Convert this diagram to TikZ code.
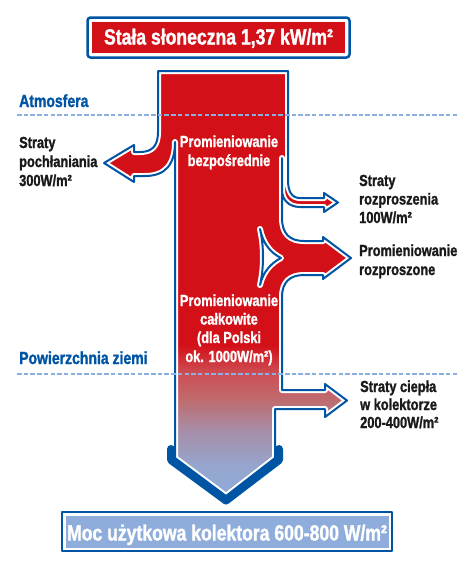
\documentclass[tikz,border=0pt]{standalone}
\usepackage{fontspec}
\setmainfont{Liberation Sans}[FakeStretch=0.8, BoldFeatures={FakeBold=1.4}]
\definecolor{mred}{RGB}{211,16,24}
\definecolor{outblue}{RGB}{0,84,164}
\definecolor{lblue}{RGB}{142,173,219}
\definecolor{dashblue}{RGB}{140,175,225}
\definecolor{gA}{RGB}{205,78,84}
\definecolor{gB}{RGB}{190,108,112}
\definecolor{gC}{RGB}{166,142,168}
\definecolor{gD}{RGB}{150,165,205}
\definecolor{txt}{RGB}{26,26,26}
\tikzset{
  lbl/.style={font=\fontsize{16}{19}\selectfont\bfseries, inner sep=0pt, anchor=base west, text=txt},
  wlbl/.style={font=\fontsize{16}{19}\selectfont\bfseries, inner sep=0pt, anchor=base, text=white},
  zone/.style={font=\fontsize{17.5}{20}\selectfont\bfseries, inner sep=0pt, anchor=base west, text=outblue},
  ttl/.style={font=\fontsize{22}{24}\selectfont\bfseries, inner sep=0pt, anchor=base, text=white},
  sepline/.style={draw=dashblue, line width=1.4pt, dash pattern=on 4.5pt off 2.2pt},
  halo/.style={draw=white, line width=6pt, line join=round},
  edge/.style={draw=outblue, line width=2pt, line join=round},
}
\def\colpath{(158,71) -- (288,71) -- (288,180) .. controls (288,192) and (292,198) .. (300,198) -- (324,198) -- (324,193) -- (338,202.5) -- (324,212) -- (324,207) -- (300,207) .. controls (289,207) and (282,200) .. (282,190) -- (282,158) -- (282,218) .. controls (282,234) and (290,241) .. (304,241) -- (323,241) -- (323,237) -- (351,258) -- (323,279) -- (323,275) -- (304,275) .. controls (290,275) and (282,282) .. (282,297) -- (282,390) -- (325,390) -- (325,384) -- (347,400.5) -- (325,417) -- (325,409) -- (275,409) -- (275,458) -- (226,496) -- (175,458) -- (175,142) .. controls (175,165) and (165,176) .. (145,176) -- (134,176) -- (134,182) -- (104,163) -- (134,145) -- (134,152) -- (140,152) .. controls (152,152) and (158,146) .. (158,132) -- cycle}
\def\tripath{(260,229) .. controls (263,244) and (271,253) .. (281,258) .. controls (271,263) and (263,272) .. (260,285) .. controls (264,268) and (264,246) .. cycle}
\begin{document}
\begin{tikzpicture}[x=1pt,y=-1pt,line join=round]
\useasboundingbox (0,0) rectangle (473,568);
% top title box
\fill[mred] (92,22) rectangle (345,53);
\draw[outblue, line width=2.5pt, rounded corners=3pt] (87.5,17.5) rectangle (349.5,57.5);
\node[ttl] (title) at (218.5,44.5) {Stała słoneczna 1,37 kW/m²};
% main flow body
\begin{scope}
  \clip \colpath;
  \fill[mred] (90,60) rectangle (360,346);
  \shade[top color=mred, bottom color=gA] (90,345) rectangle (360,373);
  \shade[top color=gA, bottom color=gB] (90,372.5) rectangle (360,401);
  \shade[top color=gB, bottom color=gC] (90,400.5) rectangle (360,431);
  \shade[top color=gC, bottom color=gD] (90,430.5) rectangle (360,466);
  \shade[top color=gD, bottom color=lblue] (90,465.5) rectangle (360,500);
\end{scope}
\path[halo] \colpath;
\path[edge] \colpath;
% inner triangle notch
\fill[white] \tripath;
\path[halo] \tripath;
\path[edge] \tripath;
% thick rim of the bottom arrowhead
\draw[outblue, line width=8pt, line cap=round, line join=round] (171,449) -- (171,460) -- (226,500.5) -- (279,460) -- (279,449);
% zone separators
\draw[sepline] (17,115) -- (458,115);
\draw[sepline] (17,374) -- (458,374);
\node[zone] (atm) at (19,107) {Atmosfera};
\node[zone] (ground) at (19,364) {Powierzchnia ziemi};
% labels inside the flow
\node[wlbl] (pb1) at (229,147) {Promieniowanie};
\node[wlbl] (pb2) at (229,166) {bezpośrednie};
\node[wlbl] (pc1) at (229,306) {Promieniowanie};
\node[wlbl] (pc2) at (229,324.5) {całkowite};
\node[wlbl] (pc3) at (229,343) {(dla Polski};
\node[wlbl] (pc4) at (229,362) {ok. 1000W/m²)};
% left labels
\node[lbl] (sa1) at (19,148) {Straty};
\node[lbl] (sa2) at (19,167) {pochłaniania};
\node[lbl] (sa3) at (19,186) {300W/m²};
% right labels
\node[lbl] (sr1) at (359,186) {Straty};
\node[lbl] (sr2) at (359,204.5) {rozproszenia};
\node[lbl] (sr3) at (359,223) {100W/m²};
\node[lbl] (pr1) at (359,256) {Promieniowanie};
\node[lbl] (pr2) at (359,275) {rozproszone};
\node[lbl] (sh1) at (360,392) {Straty ciepła};
\node[lbl] (sh2) at (360,410) {w kolektorze};
\node[lbl] (sh3) at (360,428) {200-400W/m²};
% bottom result box
\fill[lblue] (65.5,515.5) rectangle (388.5,547.5);
\draw[outblue, line width=2pt] (62,512) rectangle (392,551);
\node[ttl] (result) at (227,540.5) {Moc użytkowa kolektora 600-800 W/m²};
\end{tikzpicture}
\end{document}
